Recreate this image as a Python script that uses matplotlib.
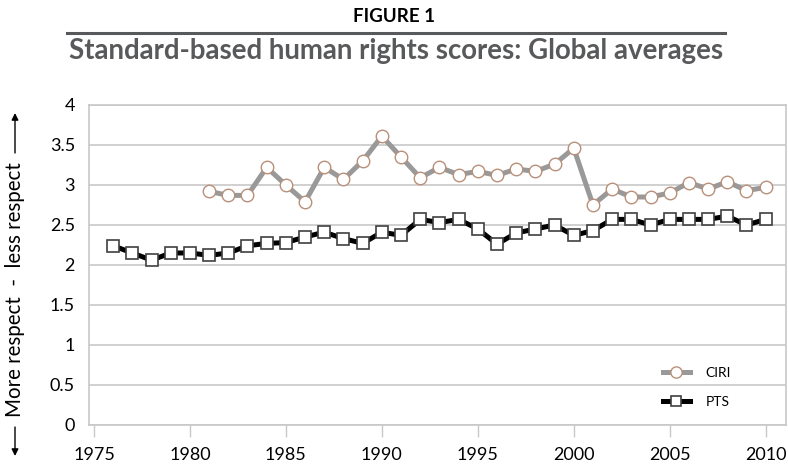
"""Figure 1: standard-based human rights scores, global averages (CIRI vs PTS)."""

import matplotlib

matplotlib.use("Agg")
import matplotlib.pyplot as plt

plt.rcParams["font.family"] = ["Lato", "DejaVu Sans"]

# --- data ---
pts_years = list(range(1976, 2011))
pts_scores = [
    2.24, 2.15, 2.06, 2.15, 2.15, 2.12, 2.15, 2.24, 2.27, 2.28,
    2.35, 2.41, 2.33, 2.27, 2.41, 2.37, 2.57, 2.53, 2.57, 2.45,
    2.26, 2.40, 2.45, 2.50, 2.37, 2.43, 2.57, 2.57, 2.50, 2.57,
    2.57, 2.57, 2.61, 2.50, 2.57,
]
ciri_years = list(range(1981, 2011))
ciri_scores = [
    2.92, 2.87, 2.87, 3.22, 3.00, 2.79, 3.22, 3.07, 3.30, 3.61,
    3.35, 3.09, 3.22, 3.13, 3.17, 3.12, 3.20, 3.17, 3.26, 3.46,
    2.75, 2.95, 2.85, 2.85, 2.90, 3.03, 2.95, 3.04, 2.93, 2.97,
]
x_ticks = [1975, 1980, 1985, 1990, 1995, 2000, 2005, 2010]
y_ticks = [0, 0.5, 1, 1.5, 2, 2.5, 3, 3.5, 4]
y_tick_labels = ["0", "0.5", "1", "1.5", "2", "2.5", "3", "3.5", "4"]

GRID = "#c8c8c8"
TITLE_GREY = "#58595b"


def fit_text(fig, txt, target_px, axis="w"):
    """Scale a text's font size so its extent matches target_px."""
    r = fig.canvas.get_renderer()
    for _ in range(3):
        bb = txt.get_window_extent(renderer=r)
        cur = bb.width if axis == "w" else bb.height
        txt.set_fontsize(txt.get_fontsize() * target_px / cur)


fig = plt.figure(figsize=(7.88, 4.71), dpi=100)
ax = fig.add_axes([0.1129, 0.0977, 0.8846, 0.6794])

ax.plot(ciri_years, ciri_scores, color="#999999", lw=3.6, marker="o",
        markersize=9, markerfacecolor="white", markeredgecolor="#b8907a",
        markeredgewidth=1.0, label="CIRI", zorder=3)
ax.plot(pts_years, pts_scores, color="black", lw=3.6, marker="s",
        markersize=8.5, markerfacecolor="white", markeredgecolor="#404040",
        markeredgewidth=1.2, label="PTS", zorder=4)

ax.set_xlim(1974.74, 2011.06)
ax.set_ylim(0, 4)
ax.set_xticks(x_ticks)
ax.set_yticks(y_ticks)
ax.set_yticklabels(y_tick_labels)
ax.grid(axis="y", color=GRID, lw=1.2)
ax.set_axisbelow(True)
for s in ax.spines.values():
    s.set_color(GRID)
    s.set_linewidth(1.2)
ax.tick_params(axis="x", length=8.6, width=1.0, color=GRID, pad=7,
               labelsize=13)
ax.tick_params(axis="y", length=0, pad=10, labelsize=13)

ax.legend(loc="center left", bbox_to_anchor=(0.805, 0.118),
          frameon=False, fontsize=10, handlelength=2.0, markerscale=0.9,
          labelspacing=1.25, handletextpad=1.1)

# y label with arrows
ylab = fig.text(0.019, 1 - 290 / 471, "More respect  -  less respect",
                rotation=90, ha="center", va="center", fontsize=13)
fit_text(fig, ylab, 255, axis="h")
arrow = dict(arrowstyle="-|>", color="black", lw=1.0, mutation_scale=10,
             shrinkA=0, shrinkB=0)
ax.annotate("", xy=(15, 471 - 113), xytext=(15, 471 - 153),
            xycoords="figure pixels", textcoords="figure pixels",
            arrowprops=arrow)
ax.annotate("", xy=(15, 471 - 456), xytext=(15, 471 - 427),
            xycoords="figure pixels", textcoords="figure pixels",
            arrowprops=arrow)

# header
fig.text(394 / 788, 1 - 16 / 471, "FIGURE 1", ha="center", va="center",
         fontsize=13.5, fontweight="bold", color="black")
fig.add_artist(plt.Line2D([67 / 788, 725 / 788], [1 - 33 / 471] * 2,
                          color=TITLE_GREY, lw=2.2))
title = fig.text(396 / 788, 1 - 51 / 471,
                 "Standard-based human rights scores: Global averages",
                 ha="center", va="center", fontsize=19.5, fontweight="bold",
                 color=TITLE_GREY)
fit_text(fig, title, 656)

fig.savefig("out.png", dpi=100)
